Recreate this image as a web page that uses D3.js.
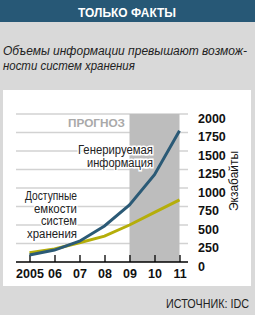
<!DOCTYPE html>
<html>
<head>
<meta charset="utf-8">
<script src="https://cdn.jsdelivr.net/npm/d3@7"></script>
<style>
  body { margin: 0; background: #d9d9d9; }
  svg { display: block; }
</style>
</head>
<body>
<div id="container"></div>
<script>
const width = 255, height = 315;

// data (exabytes)
const years = [2005, 2006, 2007, 2008, 2009, 2010, 2011];
const generated = [95, 161, 281, 487, 770, 1180, 1773];
const storage = [125, 175, 260, 350, 500, 670, 840];
const yTicks = [0, 250, 500, 750, 1000, 1250, 1500, 1750, 2000];
const forecast = [2009, 2011];

const svg = d3.select("#container").append("svg")
    .attr("width", width)
    .attr("height", height);

// text in a condensed look: draw it, then squeeze it horizontally to width w
function narrowText(parent, str, x0, y0, w, font, anchor = "start", rot = 0) {
    const g = parent.append("g");
    const t = g.append("text")
        .attr("text-anchor", anchor)
        .style("font", font)
        .text(str);
    const k = w / t.node().getComputedTextLength();
    g.attr("transform", `translate(${x0},${y0}) rotate(${rot}) scale(${k},1)`);
    return t;
}

const plain = "12.5px 'Liberation Sans', sans-serif";

// header band
svg.append("rect")
    .attr("width", width).attr("height", 22)
    .attr("fill", "#275876");
narrowText(svg, "ТОЛЬКО ФАКТЫ", 127, 16.5, 98, "bold 12px 'Liberation Sans', sans-serif", "middle")
    .attr("fill", "#fff");

// subtitle
narrowText(svg, "Объемы информации превышают возмож-", 3, 55, 244, "italic " + plain).attr("fill", "#222");
narrowText(svg, "ности систем хранения", 3, 70, 132, "italic " + plain).attr("fill", "#222");

// white panel
svg.append("rect")
    .attr("x", 3).attr("y", 90)
    .attr("width", 248).attr("height", 196)
    .attr("fill", "#fff");

const x = d3.scaleLinear().domain([2005, 2011]).range([29.5, 179.5]);
const y = d3.scaleLinear().domain([0, 2000]).range([262, 114]);

// grid
svg.append("g")
    .selectAll("line")
    .data(yTicks.filter(d => d > 0))
    .join("line")
    .attr("x1", 16).attr("x2", 188)
    .attr("y1", d => y(d)).attr("y2", d => y(d))
    .attr("stroke", "#d2d2d2")
    .attr("stroke-width", 1.5);

// forecast shade
svg.append("rect")
    .attr("x", x(forecast[0])).attr("y", y(2000))
    .attr("width", x(forecast[1]) - x(forecast[0]))
    .attr("height", y(0) - y(2000))
    .attr("fill", "#bdbdbd");

narrowText(svg, "ПРОГНОЗ", 68, 127, 57, "bold 11px 'Liberation Sans', sans-serif")
    .attr("fill", "#a9a9a9");

// x axis
const xAxis = d3.axisBottom(x)
    .tickValues(years)
    .tickSizeInner(-7)
    .tickSizeOuter(0)
    .tickPadding(7)
    .tickFormat(d => d === 2005 ? "2005" : String(d).slice(2));

const gx = svg.append("g")
    .attr("transform", `translate(0,${y(0)})`)
    .call(xAxis);
gx.select(".domain").remove();
gx.selectAll("line").attr("stroke", "#000").attr("stroke-width", 1.3);
gx.selectAll("text")
    .attr("fill", "#111")
    .style("font", "bold 12.5px 'Liberation Sans', sans-serif");
gx.append("line")
    .attr("x1", 16).attr("x2", 188)
    .attr("stroke", "#000").attr("stroke-width", 1.3);

// y axis labels on the right
const yAxis = d3.axisRight(y)
    .tickValues(yTicks)
    .tickSize(0)
    .tickPadding(0)
    .tickFormat(d3.format("d"));
const gy = svg.append("g")
    .attr("transform", "translate(198,0)")
    .call(yAxis);
gy.select(".domain").remove();
gy.selectAll("text")
    .attr("dy", "0.66em")
    .attr("fill", "#111")
    .style("font", "bold 12.5px 'Liberation Sans', sans-serif");

// rotated unit label: squeeze along its own reading direction
narrowText(svg, "Экзабайты", 238, 181, 60, "12px 'Liberation Sans', sans-serif", "middle", -90)
    .attr("fill", "#111");

// lines
const line = d3.line()
    .x((d, i) => x(years[i]))
    .y(d => y(d));

svg.append("path")
    .datum(storage)
    .attr("d", line)
    .attr("fill", "none")
    .attr("stroke", "#b5ae0a")
    .attr("stroke-width", 3);

svg.append("path")
    .datum(generated)
    .attr("d", line)
    .attr("fill", "none")
    .attr("stroke", "#2b5a76")
    .attr("stroke-width", 3);

// series labels with white halo, one text block each
function label(lines, widths, xr, y0, dy) {
    const t = svg.append("text")
        .attr("text-anchor", "end")
        .style("font", plain)
        .attr("fill", "#222")
        .attr("stroke", "#fff")
        .attr("stroke-width", 3)
        .attr("paint-order", "stroke");
    lines.forEach((s, i) => t.append("tspan")
        .attr("x", xr).attr("y", y0 + i * dy)
        .attr("textLength", widths[i])
        .attr("lengthAdjust", "spacingAndGlyphs")
        .text(s));
}
label(["Генерируемая", "информация"], [75, 66], 153, 154, 12.6);
label(["Доступные", "емкости", "систем", "хранения"], [52, 43, 36, 50], 77, 200, 12.6);

// source
narrowText(svg, "ИСТОЧНИК: IDC", 249, 308, 83, plain, "end").attr("fill", "#222");
</script>
</body>
</html>
